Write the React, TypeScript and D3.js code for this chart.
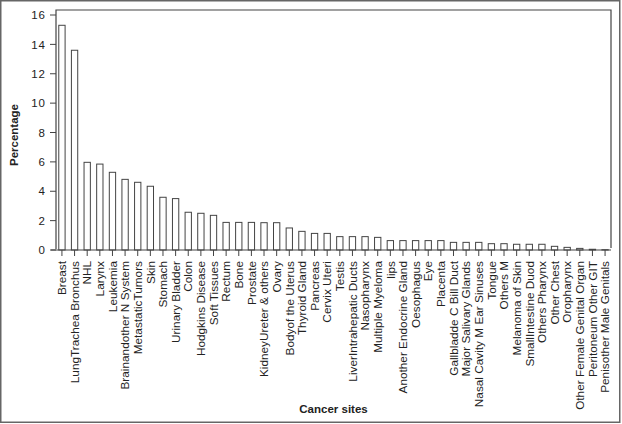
import React from "react";
import { scaleBand, scaleLinear } from "d3";

const W = 622;
const H = 424;
const PLOT = { left: 56, right: 611, top: 10, bottom: 250 };
const FONT = "'Liberation Sans', Arial, Helvetica, sans-serif";
const INK = "#222";

const sites = [
  "Breast", "LungTrachea Bronchus", "NHL", "Larynx", "Leukemia",
  "Brainandother N System", "MetastaticTumors", "Skin", "Stomach", "Urinary Bladder",
  "Colon", "Hodgkins Disease", "Soft Tissues", "Rectum", "Bone",
  "Prostate", "KidneyUreter & others", "Ovary", "Bodyof the Uterus", "Thyroid Gland",
  "Pancreas", "Cervix Uteri", "Testis", "LiverIntrahepatic Ducts", "Nasopharynx",
  "Multiple Myeloma", "lips", "Another Endocrine Gland", "Oesophagus", "Eye",
  "Placenta", "Gallbladde C Bill Duct", "Major Salivary Glands", "Nasal Cavity M Ear Sinuses", "Tongue",
  "Others M", "Melanoma of Skin", "SmallIntestine Duod", "Others Pharynx", "Other Chest",
  "Oropharynx", "Other Female Genital Organ", "Peritoneum Other GIT", "Penisother Male Genitals",
];

const percentage = [
  15.3, 13.6, 5.97, 5.85, 5.29,
  4.81, 4.61, 4.34, 3.59, 3.5,
  2.57, 2.5, 2.36, 1.88, 1.88,
  1.88, 1.86, 1.86, 1.5, 1.27,
  1.13, 1.13, 0.91, 0.91, 0.91,
  0.86, 0.64, 0.64, 0.64, 0.64,
  0.64, 0.52, 0.52, 0.52, 0.43,
  0.43, 0.39, 0.39, 0.39, 0.25,
  0.18, 0.11, 0.05, 0.02,
];

const yTicks = [0, 2, 4, 6, 8, 10, 12, 14, 16];

export default function App() {
  const x = scaleBand<string>()
    .domain(sites)
    .range([PLOT.left, PLOT.right])
    .paddingInner(0.5)
    .paddingOuter(0.22);
  const y = scaleLinear().domain([0, 16]).range([PLOT.bottom, 15]);

  return (
    <svg
      width={W}
      height={H}
      style={{ position: "absolute", left: 0, top: 0, background: "#fff" }}
      fontFamily={FONT}
    >
      <rect x={0.75} y={0.75} width={W - 3} height={H - 2.5} fill="#fff" stroke="#666" strokeWidth={1.5} />

      {/* frame: left, top, right */}
      <path
        d={`M${PLOT.left},${PLOT.bottom - 1}V${PLOT.top}H${PLOT.right}V${PLOT.bottom - 2}`}
        fill="none"
        stroke="#444"
        strokeWidth={1.2}
      />

      {/* y axis ticks */}
      {yTicks.map((t) => (
        <g key={t}>
          <line x1={PLOT.left - 6} x2={PLOT.left} y1={y(t)} y2={y(t)} stroke="#444" strokeWidth={1} />
          <text
            x={PLOT.left - 10}
            y={y(t)}
            dy="0.36em"
            textAnchor="end"
            fontSize={11.5}
            letterSpacing={1}
            fill={INK}
          >
            {t}
          </text>
        </g>
      ))}

      {/* bars */}
      {sites.map((s, i) => (
        <rect
          key={s}
          x={x(s)}
          y={y(percentage[i])}
          width={x.bandwidth()}
          height={y(0) - y(percentage[i])}
          fill="#fff"
          stroke="#444"
          strokeWidth={1}
        />
      ))}

      {/* x axis */}
      <line x1={PLOT.left - 5} x2={PLOT.right} y1={PLOT.bottom} y2={PLOT.bottom} stroke="#444" strokeWidth={1.2} />
      {sites.map((s) => {
        const cx = (x(s) as number) + x.bandwidth() / 2;
        return (
          <g key={s}>
            <line x1={cx} x2={cx} y1={PLOT.bottom} y2={PLOT.bottom + 6} stroke="#444" strokeWidth={1} />
            <text
              transform={`translate(${cx},${PLOT.bottom + 11}) rotate(-90)`}
              dy="0.36em"
              textAnchor="end"
              fontSize={11.8}
              fill={INK}
            >
              {s}
            </text>
          </g>
        );
      })}

      <text
        transform={`translate(14,135) rotate(-90)`}
        dy="0.36em"
        textAnchor="middle"
        fontSize={11.5}
        fontWeight="bold"
        fill={INK}
      >
        Percentage
      </text>
      <text x={(PLOT.left + PLOT.right) / 2} y={413} textAnchor="middle" fontSize={11.5} fontWeight="bold" fill={INK}>
        Cancer sites
      </text>
    </svg>
  );
}
